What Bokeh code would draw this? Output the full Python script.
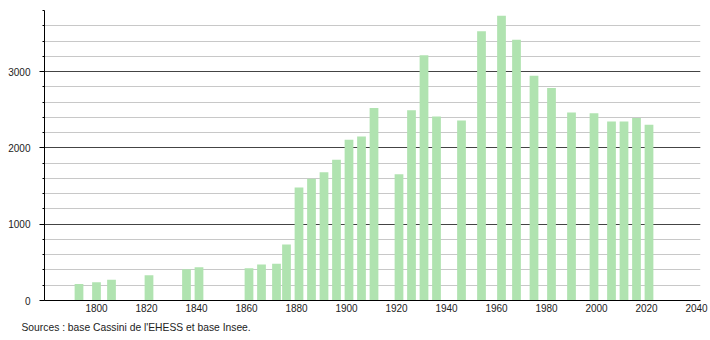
from bokeh.plotting import figure
from bokeh.models import Range1d, SingleIntervalTicker, FixedTicker, Title, ColumnDataSource
from bokeh.embed import file_html
from bokeh.resources import INLINE

years = [1793, 1800, 1806, 1821, 1836, 1841, 1861, 1866, 1872, 1876, 1881, 1886,
         1891, 1896, 1901, 1906, 1911, 1921, 1926, 1931, 1936, 1946, 1954, 1962,
         1968, 1975, 1982, 1990, 1999, 2006, 2011, 2016, 2021]
population = [215, 238, 273, 330, 410, 437, 424, 472, 481, 734, 1480, 1596,
              1682, 1845, 2106, 2150, 2522, 1653, 2492, 3215, 2412, 2360, 3527, 3730,
              3418, 2946, 2784, 2465, 2452, 2344, 2344, 2390, 2304]
x_ticks = [1800, 1820, 1840, 1860, 1880, 1900, 1920, 1940, 1960, 1980, 2000, 2020, 2040]
source_text = "Sources : base Cassini de l'EHESS et base Insee."

FONT = "Liberation Sans"

p = figure(width=710, height=340, output_backend="svg", toolbar_location=None,
           x_range=Range1d(1779.2, 2041.6), y_range=Range1d(0, 3800),
           min_border_left=44, min_border_right=10, min_border_top=10, min_border_bottom=40)
p.outline_line_color = None
p.background_fill_color = "white"

src = ColumnDataSource(dict(x=years, top=population))
p.vbar(x="x", top="top", width=3.5, bottom=0, source=src,
       fill_color="#b0e3b0", line_color=None)

# x axis
xa = p.xaxis[0]
xa.ticker = FixedTicker(ticks=x_ticks)
xa.major_tick_out = 0
xa.major_tick_in = 0
xa.minor_tick_out = 0
xa.minor_tick_in = 0
xa.axis_line_color = "black"
xa.major_label_standoff = 3
xa.major_label_text_font = FONT
xa.major_label_text_font_size = "10px"
xa.major_label_text_color = "#222222"

# y axis
ya = p.yaxis[0]
ya.ticker = SingleIntervalTicker(interval=1000, num_minor_ticks=5)
ya.major_tick_out = 5
ya.major_tick_in = 0
ya.minor_tick_out = 2
ya.minor_tick_in = 0
ya.axis_line_color = "black"
ya.major_tick_line_color = "black"
ya.minor_tick_line_color = "black"
ya.major_label_standoff = 9
ya.major_label_text_font = FONT
ya.major_label_text_font_size = "10px"
ya.major_label_text_color = "#222222"

p.xgrid.grid_line_color = None
p.ygrid.grid_line_color = "#444444"
p.ygrid.minor_grid_line_color = "#c8c8c8"

src_title = Title(text=source_text, align="left", offset=-23, standoff=11,
                  text_font=FONT, text_font_size="10.3px", text_font_style="normal",
                  text_color="#222222")
p.add_layout(src_title, "below")

open("out.html", "w").write(file_html(p, INLINE))
